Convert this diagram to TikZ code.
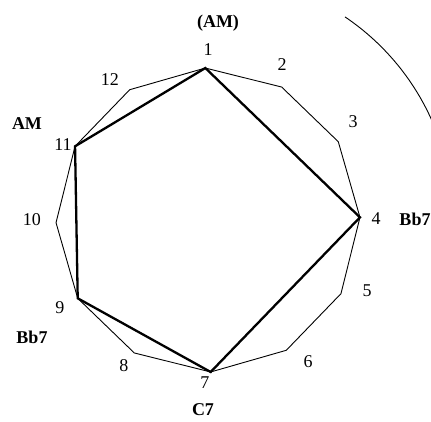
\documentclass[tikz,border=0pt]{standalone}
\usepackage{fontspec}
\setmainfont{Liberation Serif}
\usepackage{tikz}

\begin{document}
\begin{tikzpicture}[
    x=1pt, y=1pt,
    every node/.style={font=\fontsize{18}{20}\selectfont, inner sep=0pt},
    edge/.style={line width=0.9pt, line join=miter},
    chord/.style={line width=2.3pt, line join=miter},
    num/.style={},
    chordname/.style={font=\fontsize{18}{20}\selectfont\bfseries}
]
\useasboundingbox (-208,-201) rectangle (223,220);

% corners of the twelve-sided figure
\coordinate (v1) at (91:152);
\coordinate (v2) at (61:152);
\coordinate (v3) at (31:152);
\coordinate (v4) at (1:152);
\coordinate (v5) at (-29:152);
\coordinate (v6) at (-59:152);
\coordinate (v7) at (-89:152);
\coordinate (v8) at (-119:152);
\coordinate (v9) at (-149:152);
\coordinate (v10) at (-179:152);
\coordinate (v11) at (151:152);
\coordinate (v12) at (121:152);

\node[num] (n1) at (0,170) {1};
\node[num] (n2) at (74,155) {2};
\node[num] (n3) at (145,98) {3};
\node[num] (n4) at (168,1) {4};
\node[num] (n5) at (159,-71) {5};
\node[num] (n6) at (100,-142) {6};
\node[num] (n7) at (-3,-163) {7};
\node[num] (n8) at (-84,-146) {8};
\node[num] (n9) at (-148,-88) {9};
\node[num] (n10) at (-176,0) {10};
\node[num] (n11) at (-145,75) {11};
\node[num] (n12) at (-98,140) {12};

\node[chordname] (c1) at (10,197) {(AM)};
\node[chordname] (c11) at (-181,96) {AM};
\node[chordname] (c4) at (207,1) {Bb7};
\node[chordname] (c9) at (-176,-117) {Bb7};
\node[chordname] (c7) at (-5,-190) {C7};

\draw[edge] (v1) -- (v2) -- (v3) -- (v4) -- (v5) -- (v6) -- (v7)
    -- (v8) -- (v9) -- (v10) -- (v11) -- (v12) -- cycle;
\draw[chord] (v1) -- (v4) -- (v7) -- (v9) -- (v11) -- cycle;

\draw[edge] (56:245) arc[start angle=56, end angle=22, radius=245];
\end{tikzpicture}
\end{document}
